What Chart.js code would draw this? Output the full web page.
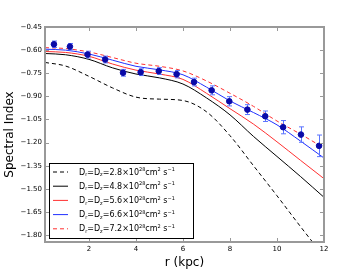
<!DOCTYPE html>
<html>
<head>
<meta charset="utf-8">
<script src="https://cdn.jsdelivr.net/npm/chart.js@4"></script>
<style>
  body { margin: 0; background: #fff; }
  #chart { display: block; }
</style>
</head>
<body>
<canvas id="chart" width="360" height="270"></canvas>
<script>
// observed spectral index with errors
const rKpc = [0.51, 1.19, 1.94, 2.69, 3.45, 4.2, 4.97, 5.73, 6.47, 7.22, 7.97, 8.74, 9.5, 10.26, 11.02, 11.79];
const specIdx = [-0.562, -0.577, -0.629, -0.661, -0.747, -0.743, -0.736, -0.756, -0.807, -0.861, -0.932, -0.986, -1.029, -1.10, -1.148, -1.221];
const specErr = [0.021, 0.02, 0.022, 0.022, 0.022, 0.022, 0.022, 0.024, 0.025, 0.029, 0.03, 0.032, 0.034, 0.043, 0.05, 0.07];

// model curves
const modelR = [0.13, 1, 2, 3, 4, 5, 6, 7, 8, 9, 10, 11, 12];
const model28 = [-0.68, -0.703, -0.77, -0.845, -0.905, -0.918, -0.927, -1.0, -1.155, -1.35, -1.545, -1.745, -1.94];
const model48 = [-0.622, -0.63, -0.66, -0.715, -0.755, -0.78, -0.82, -0.91, -1.02, -1.16, -1.29, -1.42, -1.555];
const model56 = [-0.609, -0.615, -0.64, -0.69, -0.73, -0.755, -0.79, -0.88, -0.98, -1.08, -1.195, -1.315, -1.434];
const model66 = [-0.594, -0.60, -0.625, -0.665, -0.705, -0.728, -0.76, -0.84, -0.93, -1.005, -1.085, -1.19, -1.30];
const model72 = [-0.584, -0.59, -0.612, -0.648, -0.685, -0.705, -0.735, -0.80, -0.88, -0.965, -1.06, -1.145, -1.235];

const diffCoef = ["2.8", "4.8", "5.6", "6.6", "7.2"];
const xTicks = [2, 4, 6, 8, 10, 12];
const yTicks = [-1.80, -1.65, -1.50, -1.35, -1.20, -1.05, -0.90, -0.75, -0.60, -0.45];

const FONT = "'DejaVu Sans', sans-serif";
const toXY = (xs, ys) => xs.map((x, i) => ({ x: x, y: ys[i] }));

const modelStyles = [
    { data: model28, color: "#000000", dash: [4, 3] },
    { data: model48, color: "#000000", dash: [] },
    { data: model56, color: "#ff3030", dash: [] },
    { data: model66, color: "#2030ff", dash: [] },
    { data: model72, color: "#ff3030", dash: [4, 3] },
];

const datasets = modelStyles.map((m, i) => ({
    label: diffCoef[i],
    data: toXY(modelR, m.data),
    borderColor: m.color,
    borderDash: m.dash,
    borderWidth: 1,
    pointRadius: 0,
    showLine: true,
    cubicInterpolationMode: "monotone",
    order: 2,
}));

datasets.push({
    label: "obs",
    data: toXY(rKpc, specIdx),
    showLine: false,
    pointRadius: 2.8,
    backgroundColor: "#0a0aa8",
    borderColor: "#0a0aa8",
    order: 0,
});
const OBS = datasets.length - 1;

// Error bars under the observed points
const errorBars = {
    id: "errorBars",
    beforeDatasetDraw(chart, args) {
        if (args.index !== OBS) return;
        const ctx = chart.ctx;
        const xs = chart.scales.x, ys = chart.scales.y;
        ctx.save();
        ctx.strokeStyle = "#5b74ff";
        ctx.lineWidth = 1;
        rKpc.forEach((r, i) => {
            const px = Math.round(xs.getPixelForValue(r)) + 0.5;
            const top = ys.getPixelForValue(specIdx[i] + specErr[i]);
            const bot = ys.getPixelForValue(specIdx[i] - specErr[i]);
            ctx.beginPath();
            ctx.moveTo(px, top); ctx.lineTo(px, bot);
            ctx.moveTo(px - 2.5, top); ctx.lineTo(px + 2.5, top);
            ctx.moveTo(px - 2.5, bot); ctx.lineTo(px + 2.5, bot);
            ctx.stroke();
        });
        ctx.restore();
    },
};

// Frame with inward ticks on all four sides, then the legend box
const frameAndLegend = {
    id: "frameAndLegend",
    afterDraw(chart) {
        const ctx = chart.ctx;
        const a = chart.chartArea;
        const xs = chart.scales.x, ys = chart.scales.y;
        ctx.save();
        ctx.strokeStyle = "#999999";
        ctx.lineWidth = 1;
        ctx.beginPath();
        xTicks.forEach(v => {
            const px = Math.round(xs.getPixelForValue(v)) + 0.5;
            ctx.moveTo(px, a.bottom); ctx.lineTo(px, a.bottom - 4);
            ctx.moveTo(px, a.top); ctx.lineTo(px, a.top + 4);
        });
        yTicks.forEach(v => {
            const py = Math.round(ys.getPixelForValue(v)) + 0.5;
            ctx.moveTo(a.left, py); ctx.lineTo(a.left + 4, py);
            ctx.moveTo(a.right, py); ctx.lineTo(a.right - 4, py);
        });
        ctx.stroke();
        ctx.lineWidth = 2;
        ctx.strokeRect(a.left, a.top, a.right - a.left, a.bottom - a.top);

        // legend
        const bx = a.left + 4, bw = 144, bh = 75;
        const by = a.bottom - 4 - bh;
        ctx.fillStyle = "#ffffff";
        ctx.fillRect(bx, by, bw, bh);
        ctx.strokeStyle = "#000000";
        ctx.lineWidth = 1;
        ctx.strokeRect(bx + 0.5, by + 0.5, bw, bh);
        const big = "8px " + FONT, small = "5px " + FONT;
        modelStyles.forEach((m, i) => {
            const y = by + 9 + i * 14.2;
            ctx.strokeStyle = m.color;
            ctx.setLineDash(m.dash);
            ctx.beginPath();
            ctx.moveTo(bx + 4, y); ctx.lineTo(bx + 19, y);
            ctx.stroke();
            ctx.setLineDash([]);
            ctx.fillStyle = "#000000";
            ctx.textBaseline = "middle";
            let x = bx + 30;
            const parts = [
                ["D", big, 0], ["r", small, 2.5], ["=D", big, 0], ["z", small, 2.5],
                ["=" + diffCoef[i] + "\u00d710", big, 0], ["28", small, -2.5],
                ["cm", big, 0], ["2", small, -2.5], [" s", big, 0], ["\u22121", small, -2.5],
            ];
            parts.forEach(p => {
                ctx.font = p[1];
                ctx.fillText(p[0], x, y + 0.5 + p[2]);
                x += ctx.measureText(p[0]).width;
            });
        });
        ctx.restore();
    },
};

const fmtY = v => v.toFixed(2).replace("-", "\u2212");

new Chart(document.querySelector("#chart").getContext("2d"), {
    type: "scatter",
    data: { datasets: datasets },
    options: {
        responsive: false,
        animation: false,
        devicePixelRatio: 1,
        layout: { padding: { top: 27, right: 36, left: 0, bottom: 0 } },
        plugins: { legend: { display: false }, tooltip: { enabled: false } },
        scales: {
            x: {
                type: "linear",
                min: 0.13,
                max: 12,
                afterBuildTicks: s => { s.ticks = xTicks.map(v => ({ value: v })); },
                afterFit: s => { s.height = 28; },
                grid: { display: false, drawTicks: false },
                border: { display: false },
                ticks: { color: "#000", font: { family: FONT, size: 7 }, padding: 3, maxRotation: 0 },
                title: { display: true, text: "r (kpc)", color: "#000", font: { family: FONT, size: 12 }, padding: { top: 0, bottom: 0 } },
            },
            y: {
                type: "linear",
                min: -1.845,
                max: -0.45,
                afterBuildTicks: s => { s.ticks = yTicks.map(v => ({ value: v })); },
                afterFit: s => { s.width = 45; },
                grid: { display: false, drawTicks: false },
                border: { display: false },
                ticks: { color: "#000", font: { family: FONT, size: 7 }, padding: 3, callback: v => fmtY(v) },
                title: { display: true, text: "Spectral Index", color: "#000", font: { family: FONT, size: 12 }, padding: { top: 3, bottom: 0 } },
            },
        },
    },
    plugins: [errorBars, frameAndLegend],
});
</script>
</body>
</html>
